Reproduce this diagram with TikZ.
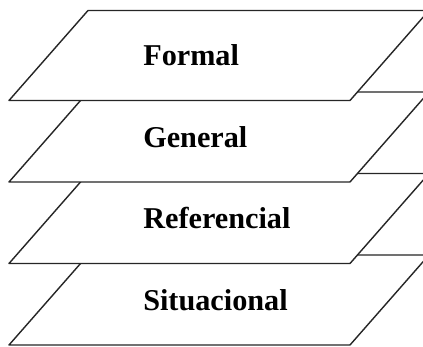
\documentclass[tikz,border=0pt]{standalone}
\usepackage{fontspec}
\setmainfont{Liberation Serif}

\begin{document}
\begin{tikzpicture}
      [x=0.025cm,y=0.025cm,
       every node/.style={anchor=west,inner sep=0pt,font=\fontsize{21.5}{24}\selectfont\bfseries}]
      \useasboundingbox (0,0) rectangle (423,347);
      \clip (0,0) rectangle (423,347);

      \foreach \i/\name in {0/Situacional,1/Referencial,2/General,3/Formal}
      {
        \draw [fill=white,line width=1pt,line join=round,draw=black!85]
          (9,2+81.5*\i) -- (350,2+81.5*\i) -- (429,92+81.5*\i) -- (88,92+81.5*\i) -- cycle;
        \node (n\i) at (143,47+81.5*\i) {\name};
      }
\end{tikzpicture}
\end{document}
